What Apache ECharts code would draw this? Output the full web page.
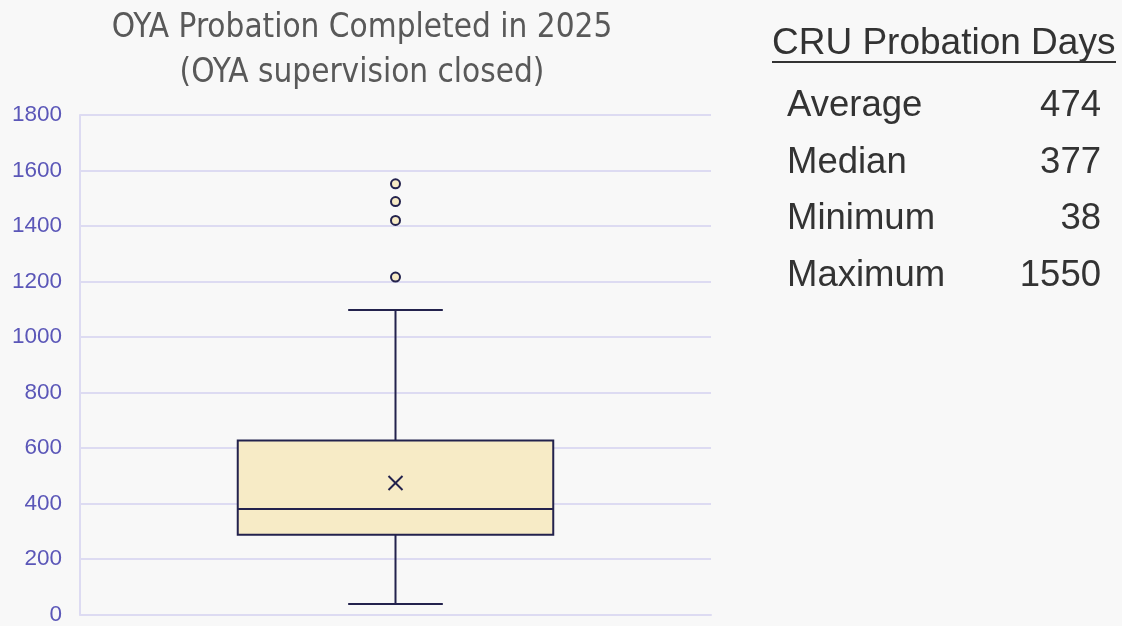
<!DOCTYPE html>
<html>
<head>
<meta charset="utf-8">
<script src="https://cdn.jsdelivr.net/npm/echarts@6/dist/echarts.min.js"></script>
<style>
  html, body { margin: 0; padding: 0; background: #f8f8f8; }
  #chart { width: 1122px; height: 626px; }
</style>
</head>
<body>
<div id="chart"></div>
<script>
// box stats: lower whisker, Q1, median, Q3, upper whisker
const categories = [''];
const boxStats = [38, 287, 380, 627, 1097];
const meanValue = 474;
const outliers = [1216, 1420, 1488, 1552];
const yTicks = [0, 1800, 200]; // min, max, interval

const titleLines = ['OYA Probation Completed in 2025', '(OYA supervision closed)'];
const statHeader = 'CRU Probation Days';
const statLabels = ['Average', 'Median', 'Minimum', 'Maximum'];
const statValues = ['474', '377', '38', '1550'];

const lineColor = '#23224d';
const boxFill = '#f7ebc6';
const gridColor = '#dddbf2';
const textFont = '"Liberation Sans", Arial, sans-serif';

function renderBox(params, api) {
    const x = api.value(0);
    const p = [1, 2, 3, 4, 5].map(i => api.coord([x, api.value(i)]));
    const meanPt = api.coord([x, api.value(6)]);
    const band = api.size([1, 0])[0];
    const halfBox = band * 0.25;
    const halfCap = band * 0.075;
    const cx = p[0][0];
    const stroke = { stroke: lineColor, lineWidth: 2, fill: null };
    const m = 7;
    return {
        type: 'group',
        children: [
            { type: 'line', shape: { x1: cx, y1: p[4][1], x2: cx, y2: p[3][1] }, style: stroke },
            { type: 'line', shape: { x1: cx, y1: p[1][1], x2: cx, y2: p[0][1] }, style: stroke },
            { type: 'line', shape: { x1: cx - halfCap, y1: p[4][1], x2: cx + halfCap, y2: p[4][1] }, style: stroke },
            { type: 'line', shape: { x1: cx - halfCap, y1: p[0][1], x2: cx + halfCap, y2: p[0][1] }, style: stroke },
            {
                type: 'rect',
                shape: { x: cx - halfBox, y: p[3][1], width: halfBox * 2, height: p[1][1] - p[3][1] },
                style: { fill: boxFill, stroke: lineColor, lineWidth: 2 }
            },
            { type: 'line', shape: { x1: cx - halfBox, y1: p[2][1], x2: cx + halfBox, y2: p[2][1] }, style: stroke },
            { type: 'line', shape: { x1: meanPt[0] - m, y1: meanPt[1] - m, x2: meanPt[0] + m, y2: meanPt[1] + m }, style: stroke },
            { type: 'line', shape: { x1: meanPt[0] - m, y1: meanPt[1] + m, x2: meanPt[0] + m, y2: meanPt[1] - m }, style: stroke }
        ]
    };
}

const graphics = [
    {
        type: 'text', x: 362, y: 6,
        style: {
            text: titleLines.join('\n'), fill: '#595959', align: 'center',
            font: '33px "DejaVu Sans Condensed", sans-serif',
            lineHeight: 45
        }
    },
    {
        type: 'text', x: 772, y: 44,
        style: { text: statHeader, fill: '#333333', verticalAlign: 'middle', font: '37px ' + textFont }
    },
    {
        type: 'line', shape: { x1: 772, y1: 62, x2: 1116, y2: 62 },
        style: { stroke: '#333333', lineWidth: 2 }
    }
];
statLabels.forEach((lab, i) => {
    const y = 106 + i * 56.7;
    graphics.push({
        type: 'text', x: 787, y: y,
        style: { text: lab, fill: '#333333', verticalAlign: 'middle', font: '36.5px ' + textFont }
    });
    graphics.push({
        type: 'text', x: 1101, y: y,
        style: { text: statValues[i], fill: '#333333', align: 'right', verticalAlign: 'middle', font: '36.5px ' + textFont }
    });
});

const chart = echarts.init(document.getElementById('chart'));
chart.setOption({
    backgroundColor: '#f8f8f8',
    animation: false,
    grid: { left: 80, right: 411, top: 115, bottom: 9 },
    xAxis: {
        type: 'category',
        data: categories,
        axisLine: { show: true, lineStyle: { color: gridColor, width: 2 } },
        axisTick: { show: false },
        axisLabel: { show: false }
    },
    yAxis: {
        type: 'value',
        min: yTicks[0],
        max: yTicks[1],
        interval: yTicks[2],
        axisLine: { show: true, lineStyle: { color: gridColor, width: 2 } },
        axisTick: { show: false },
        axisLabel: {
            color: '#5b57b8', fontSize: 22.5, margin: 18,
            fontFamily: textFont,
            formatter: v => String(v)
        },
        splitLine: { lineStyle: { color: gridColor, width: 2 } }
    },
    series: [
        {
            type: 'custom',
            renderItem: renderBox,
            data: [[0].concat(boxStats, [meanValue])],
            z: 3
        },
        {
            type: 'scatter',
            data: outliers.map(v => [0, v]),
            symbol: 'circle',
            symbolSize: 9,
            itemStyle: { color: boxFill, borderColor: lineColor, borderWidth: 2, opacity: 1 },
            z: 4
        }
    ],
    graphic: graphics
});
</script>
</body>
</html>
